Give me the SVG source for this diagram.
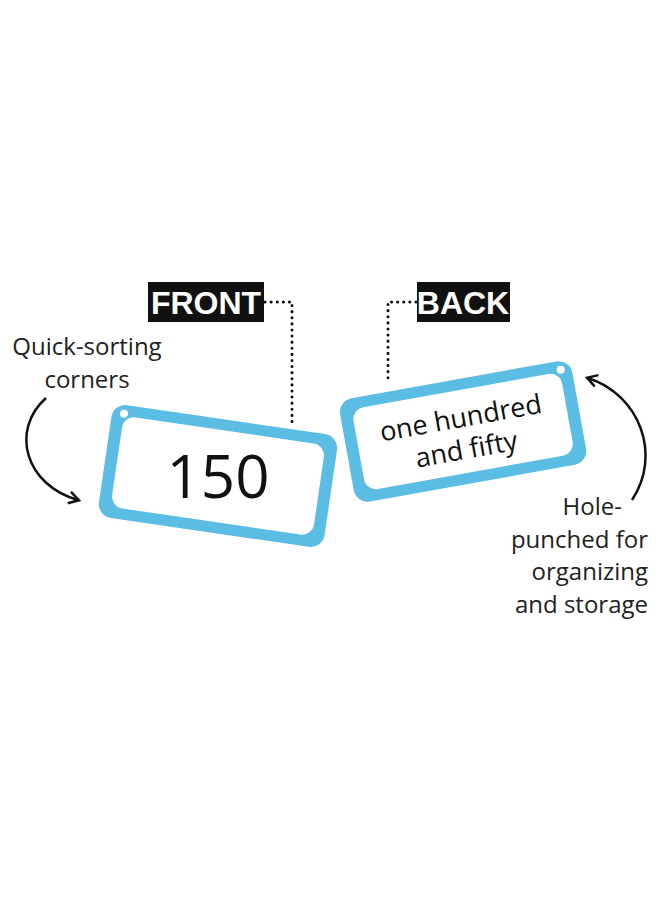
<svg xmlns="http://www.w3.org/2000/svg" width="660" height="900" viewBox="0 0 660 900">
<defs>
<style>
.lbl{font-family:"Open Sans","Liberation Sans",sans-serif;font-size:24px;fill:#222}
.tag{font-family:"Liberation Sans",sans-serif;font-weight:bold;font-size:32px;fill:#fff}
.dot{fill:none;stroke:#111;stroke-width:3;stroke-dasharray:0.1 6;stroke-linecap:round}
.arr{fill:none;stroke:#111;stroke-width:2.5}
.outer{fill:#5bbde3}
.inner{fill:#fff}
.card{font-family:"Open Sans","Liberation Sans",sans-serif;fill:#111}
</style>
<marker id="ah" markerWidth="14" markerHeight="14" refX="10" refY="7" orient="auto" markerUnits="userSpaceOnUse"><path d="M1,1 L11,7 L1,13" fill="none" stroke="#111" stroke-width="2.5"/></marker>
</defs>
<rect width="660" height="900" fill="#fff"/>
<g id="connectors">
<path class="dot" d="M265,302 H292 V424"/>
<path class="dot" d="M416,302 H388 V382"/>
<path class="arr" d="M46,398 C10,430 25,485 78,500" marker-end="url(#ah)"/>
<path class="arr" d="M632,500 C662,455 640,395 588,378" marker-end="url(#ah)"/>
</g>
<g id="front-card" transform="rotate(8.3 218 476)">
<rect class="outer" x="104" y="419" width="228" height="114" rx="14"/>
<rect class="inner" x="116" y="430" width="204" height="92" rx="12"/>
<circle cx="116" cy="428" r="4" fill="#fff"/>
<text class="card" x="218" y="498" text-anchor="middle" font-size="60" transform="rotate(-8.3 218 476)">150</text>
</g>
<g id="back-card" transform="rotate(-10.2 463 431)">
<rect class="outer" x="345" y="379" width="236" height="105" rx="14"/>
<rect class="inner" x="357" y="390" width="212" height="83" rx="12"/>
<circle cx="570" cy="388" r="4" fill="#fff"/>
<text class="card" x="463" y="427" text-anchor="middle" font-size="27">one hundred</text>
<text class="card" x="463" y="459" text-anchor="middle" font-size="27">and fifty</text>
</g>
<g id="front-tag"><rect x="148" y="282" width="116" height="40" fill="#111"/><text class="tag" x="206" y="314" text-anchor="middle">FRONT</text></g>
<g id="back-tag"><rect x="417" y="282" width="93" height="40" fill="#111"/><text class="tag" x="463" y="314" text-anchor="middle">BACK</text></g>
<g id="left-note"><text class="lbl" x="87" y="355" text-anchor="middle">Quick-sorting</text><text class="lbl" x="87" y="388" text-anchor="middle">corners</text></g>
<g id="right-note"><text class="lbl" x="622" y="515" text-anchor="end">Hole-</text><text class="lbl" x="648" y="548" text-anchor="end">punched for</text><text class="lbl" x="648" y="580" text-anchor="end">organizing</text><text class="lbl" x="648" y="613" text-anchor="end">and storage</text></g>
</svg>
